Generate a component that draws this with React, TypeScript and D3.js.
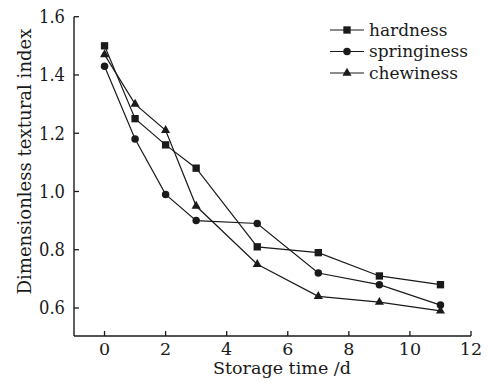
import React from "react";
import * as d3 from "d3";

const days = [0, 1, 2, 3, 5, 7, 9, 11];
const hardness = [1.5, 1.25, 1.16, 1.08, 0.81, 0.79, 0.71, 0.68];
const springiness = [1.43, 1.18, 0.99, 0.9, 0.89, 0.72, 0.68, 0.61];
const chewiness = [1.47, 1.3, 1.21, 0.95, 0.75, 0.64, 0.62, 0.59];
const seriesNames = ["hardness", "springiness", "chewiness"];
const xTicks = [0, 2, 4, 6, 8, 10, 12];
const yTicks = [0.6, 0.8, 1.0, 1.2, 1.4, 1.6];

const W = 489;
const H = 383;
const left = 74;
const right = 471;
const top = 16.7;
const bottom = 336;
const font = "'DejaVu Serif', serif";
const ink = "#1a1a1a";

const x = d3.scaleLinear().domain([-1, 12]).range([left, right]);
const y = d3.scaleLinear().domain([0.6, 1.6]).range([308, top]);

const series = [hardness, springiness, chewiness];
const symbols = [d3.symbolSquare, d3.symbolCircle, d3.symbolTriangle];
const symSize = [54, 44, 36];

const line = d3
  .line<number>()
  .x((d, i) => x(days[i]))
  .y(d => y(d));

function Marker({ k, cx, cy }: { k: number; cx: number; cy: number }) {
  const path = d3.symbol().type(symbols[k]).size(symSize[k])();
  return <path d={path || ""} transform={`translate(${cx},${cy})`} fill={ink} />;
}

export default function App() {
  return (
    <svg
      width={W}
      height={H}
      style={{ position: "absolute", left: 0, top: 0, background: "#fff" }}
    >
      {/* axes */}
      <line x1={left} x2={left} y1={top} y2={bottom} stroke={ink} strokeWidth={1.4} />
      <line x1={left} x2={right} y1={bottom} y2={bottom} stroke={ink} strokeWidth={1.4} />
      {yTicks.map(t => (
        <g key={"y" + t}>
          <line x1={left} x2={left + 5} y1={y(t)} y2={y(t)} stroke={ink} strokeWidth={1.3} />
          <text
            x={left - 9}
            y={y(t)}
            dy="0.36em"
            textAnchor="end"
            fontFamily={font}
            fontSize={18}
            textLength={26}
            lengthAdjust="spacingAndGlyphs"
            fill={ink}
          >
            {d3.format(".1f")(t)}
          </text>
        </g>
      ))}
      {xTicks.map(t => (
        <g key={"x" + t}>
          <line x1={x(t)} x2={x(t)} y1={bottom} y2={bottom - 5} stroke={ink} strokeWidth={1.3} />
          <text
            x={x(t)}
            y={355}
            textAnchor="middle"
            fontFamily={font}
            fontSize={17.5}
            fill={ink}
          >
            {t}
          </text>
        </g>
      ))}
      <text
        x={282}
        y={374}
        textAnchor="middle"
        fontFamily={font}
        fontSize={17}
        textLength={138}
        lengthAdjust="spacingAndGlyphs"
        fill={ink}
      >
        Storage time /d
      </text>
      <text
        transform={`translate(31,161.5) rotate(-90)`}
        textAnchor="middle"
        fontFamily={font}
        fontSize={18}
        textLength={266}
        lengthAdjust="spacingAndGlyphs"
        fill={ink}
      >
        Dimensionless textural index
      </text>

      {/* series */}
      {series.map((s, k) => (
        <g key={seriesNames[k]}>
          <path d={line(s) || ""} fill="none" stroke={ink} strokeWidth={1.2} />
          {s.map((v, i) => (
            <Marker key={i} k={k} cx={x(days[i])} cy={y(v)} />
          ))}
        </g>
      ))}

      {/* legend */}
      {seriesNames.map((n, k) => {
        const ly = 30 + k * 21.5;
        return (
          <g key={"leg" + n}>
            <line x1={330} x2={364} y1={ly} y2={ly} stroke={ink} strokeWidth={1.2} />
            <Marker k={k} cx={347} cy={ly} />
            <text
              x={369}
              y={ly}
              dy="0.33em"
              fontFamily={font}
              fontSize={17}
              fill={ink}
            >
              {n}
            </text>
          </g>
        );
      })}
    </svg>
  );
}
